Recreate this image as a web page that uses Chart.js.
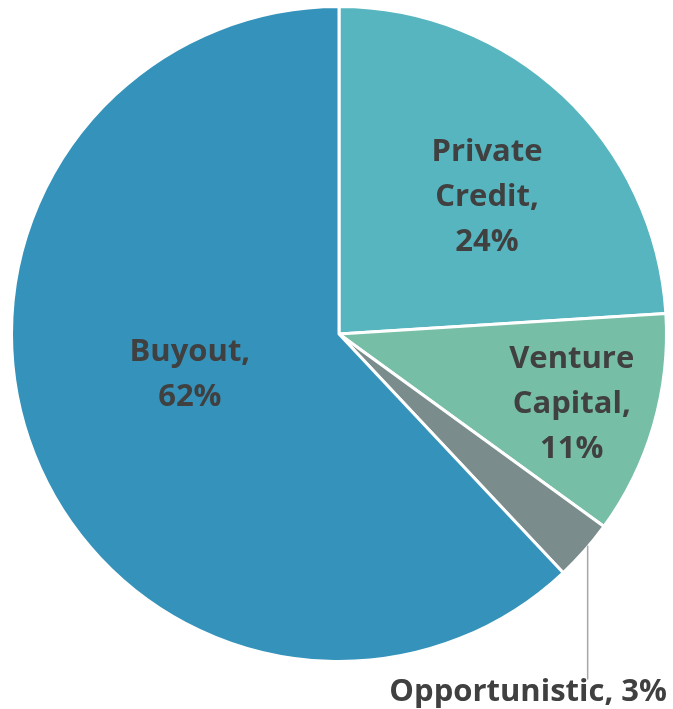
<!DOCTYPE html>
<html>
<head>
<meta charset="utf-8">
<script src="https://cdn.jsdelivr.net/npm/chart.js@4.4.0/dist/chart.umd.min.js"></script>
<style>
  html, body { margin: 0; padding: 0; background: #fff; }
  #wrap { width: 673px; height: 709px; position: relative; }
</style>
</head>
<body>
<div id="wrap"><canvas id="pie"></canvas></div>
<script>
// Data
const categories = ["Private Credit", "Venture Capital", "Opportunistic", "Buyout"];
const shares = [24, 11, 3, 62];
const labelLines = [
  ["Private", "Credit,", "24%"],
  ["Venture", "Capital,", "11%"],
  ["Opportunistic, 3%"],
  ["Buyout,", "62%"],
];

const sliceColors = ["#57b5bf", "#77bea7", "#7a8c8c", "#3593bb"];

// where each label sits: fraction of radius, angle tweak (deg), outside?
const labelPlace = [
  { r: 0.62, da: 3.6, outside: false },
  { r: 0.74, da: 0, outside: false },
  { r: 0, da: -1, outside: true },
  { r: 0.47, da: 7.3, outside: false },
];

const font = "bold 31px 'Open Sans'";
const lineH = 45;
const yNudge = 2.5; // Open Sans sits a little higher than the original font

const pieLabels = {
  id: "pieLabels",
  afterDraw: (chart) => {
    const ctx = chart.ctx;
    const meta = chart.getDatasetMeta(0);
    ctx.save();
    ctx.font = font;
    ctx.fillStyle = "#404040";
    ctx.textAlign = "center";
    ctx.textBaseline = "middle";

    meta.data.forEach((arc, i) => {
      const p = labelPlace[i];
      const mid = (arc.startAngle + arc.endAngle) / 2 + (p.da * Math.PI) / 180;
      const lines = labelLines[i];

      if (p.outside) {
        // leader line from slice edge straight down to the label
        const ex = arc.x + (arc.outerRadius - 1) * Math.cos(mid);
        const ey = arc.y + (arc.outerRadius - 1) * Math.sin(mid);
        const ly = chart.height - 19 + yNudge;
        ctx.beginPath();
        ctx.moveTo(ex, ey);
        ctx.lineTo(ex, ly - 13);
        ctx.lineWidth = 1.5;
        ctx.strokeStyle = "#a6a6a6";
        ctx.stroke();
        ctx.textAlign = "right";
        ctx.fillText(lines[0], chart.width - 6, ly);
        ctx.textAlign = "center";
        return;
      }

      const cx = arc.x + arc.outerRadius * p.r * Math.cos(mid);
      const cy = arc.y + arc.outerRadius * p.r * Math.sin(mid) + yNudge;
      const top = cy - ((lines.length - 1) * lineH) / 2;
      lines.forEach((t, k) => ctx.fillText(t, cx, top + k * lineH));
    });

    ctx.restore();
  },
};

new Chart(document.getElementById("pie"), {
  type: "pie",
  data: {
    labels: categories,
    datasets: [
      {
        data: shares,
        backgroundColor: sliceColors,
        borderColor: "#ffffff",
        borderWidth: 3,
      },
    ],
  },
  options: {
    responsive: true,
    maintainAspectRatio: false,
    animation: false,
    layout: { padding: { left: 10, right: 5, top: 5, bottom: 46 } },
    plugins: {
      legend: { display: false },
      tooltip: { enabled: false },
    },
  },
  plugins: [pieLabels],
});
</script>
</body>
</html>
